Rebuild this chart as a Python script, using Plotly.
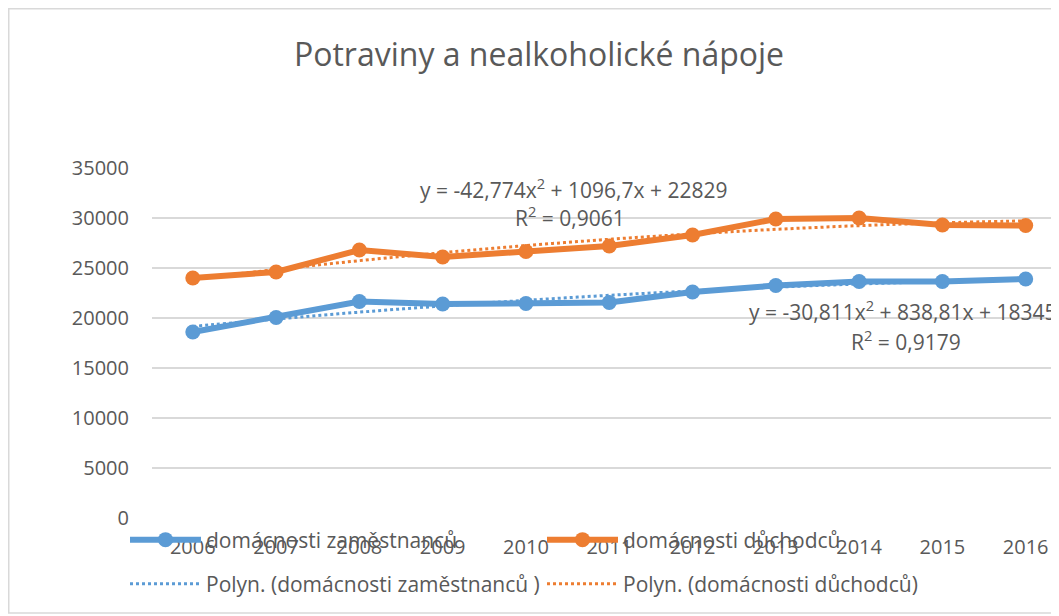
import plotly.graph_objects as go

years = ["2006", "2007", "2008", "2009", "2010", "2011", "2012", "2013", "2014", "2015", "2016"]
zamestnanci = [18600, 20050, 21650, 21400, 21450, 21550, 22600, 23250, 23650, 23650, 23900]
duchodci = [24000, 24600, 26800, 26100, 26650, 27200, 28300, 29900, 30000, 29300, 29250]

# trendline coefficients as printed on the chart (a, b, c for a*x^2 + b*x + c, x = 1..n)
coef_zam = [-30.811, 838.81, 18345]
coef_duch = [-42.774, 1096.7, 22829]
eq_zam = ["y = -30,811x<sup>2</sup> + 838,81x + 18345", "R<sup>2</sup> = 0,9179"]
eq_duch = ["y = -42,774x<sup>2</sup> + 1096,7x + 22829", "R<sup>2</sup> = 0,9061"]

BLUE = "#5B9BD5"
ORANGE = "#ED7D31"
TXT = "#595959"
FONT = "Open Sans"

def trend(coef):
    a, b, c = coef
    return [a * k * k + b * k + c for k in range(1, len(years) + 1)]

fig = go.Figure()
fig.add_trace(go.Scatter(x=years, y=trend(coef_zam), name="Polyn. (domácnosti zaměstnanců )",
                         mode="lines", line=dict(color=BLUE, width=3, dash="dot", shape="spline"),
                         legend="legend2"))
fig.add_trace(go.Scatter(x=years, y=trend(coef_duch), name="Polyn. (domácnosti důchodců)",
                         mode="lines", line=dict(color=ORANGE, width=3, dash="dot", shape="spline"),
                         legend="legend2"))
fig.add_trace(go.Scatter(x=years, y=zamestnanci, name="domácnosti zaměstnanců",
                         mode="lines+markers", line=dict(color=BLUE, width=6),
                         marker=dict(size=15, color=BLUE), legend="legend"))
fig.add_trace(go.Scatter(x=years, y=duchodci, name="domácnosti důchodců",
                         mode="lines+markers", line=dict(color=ORANGE, width=6),
                         marker=dict(size=15, color=ORANGE), legend="legend"))

# the page body adds an 8px offset; the figure is sized to fill the rest of the window
OFF = 8
W, H = 1059 - OFF, 616 - OFF
PL, PR, PT, PB = 152 - OFF, 1059 - OFF, 168 - OFF, 518 - OFF  # plot area in figure px
PW, PHh = PR - PL, PB - PT

def px_x(x):  # window px -> paper x
    return (x - OFF - PL) / PW

def px_y(y):  # window px -> paper y
    return (PB - (y - OFF)) / PHh

def ann(x, y, text):
    return dict(x=x, y=y, xref="x", yref="y", text=text, showarrow=False,
                font=dict(family=FONT, size=21, color=TXT), xanchor="center", yanchor="middle")

legend_common = dict(orientation="h", xanchor="left", yanchor="middle",
                     font=dict(family=FONT, size=21, color=TXT), bgcolor="rgba(0,0,0,0)",
                     itemwidth=71, entrywidth=331, traceorder="normal")

fig.update_layout(
    width=W, height=H,
    margin=dict(l=PL, r=W - PR, t=PT, b=H - PB),
    paper_bgcolor="white", plot_bgcolor="white",
    font=dict(family=FONT, size=20, color=TXT),
    title=dict(text="Potraviny a nealkoholické nápoje", x=(539 - OFF) / W, xref="container",
               y=1 - (55 - OFF) / H, yref="container", xanchor="center", yanchor="middle",
               font=dict(family=FONT, size=32, color=TXT)),
    xaxis=dict(type="category", range=[-0.49, 10.40], showgrid=False, zeroline=False,
               showline=False, ticks="", tickfont=dict(size=20, color=TXT), ticklabelstandoff=15),
    yaxis=dict(range=[0, 35000], dtick=5000, showgrid=True, gridcolor="#D9D9D9", gridwidth=1.5,
               zeroline=False, showline=False, ticks="", tickfont=dict(size=20, color=TXT),
               ticklabelstandoff=22, tickformat="d"),
    legend=dict(x=px_x(125), y=px_y(540), **legend_common),
    legend2=dict(x=px_x(125), y=px_y(584), **legend_common),
    annotations=[
        ann(4.57, 33000, eq_duch[0]), ann(4.53, 30200, eq_duch[1]),
        ann(8.52, 20800, eq_zam[0]), ann(8.56, 17800, eq_zam[1]),
    ],
    shapes=[dict(type="rect", xref="paper", yref="paper",
                 x0=px_x(OFF + 0.75), x1=px_x(1075),
                 y0=px_y(613), y1=px_y(OFF + 0.75),
                 line=dict(color="#D9D9D9", width=1.5), layer="below")],
)

fig.write_html("out.html")
